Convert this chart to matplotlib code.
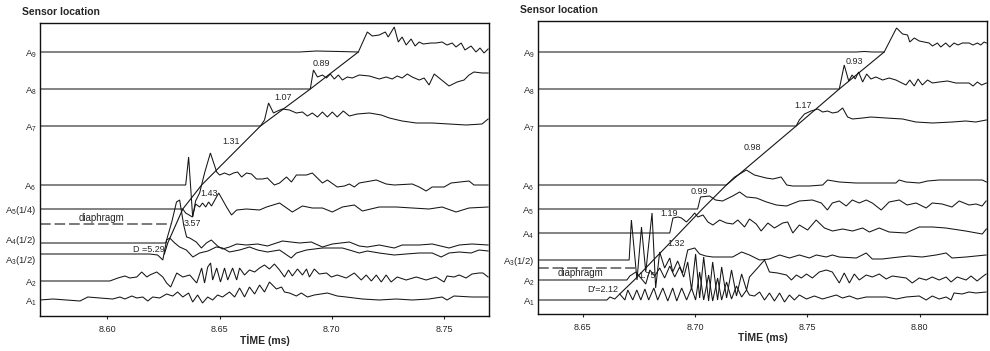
import matplotlib
matplotlib.use("Agg")
import matplotlib.pyplot as plt
from matplotlib.transforms import offset_copy

plt.rcParams['font.family'] = ['Liberation Sans', 'DejaVu Sans']
plt.rcParams['mathtext.fontset'] = 'custom'
plt.rcParams['mathtext.rm'] = 'Liberation Sans'
plt.rcParams['mathtext.it'] = 'Liberation Sans:italic'
plt.rcParams['mathtext.bf'] = 'Liberation Sans:bold'

# ---------------- LEFT PANEL DATA ----------------
L_xlim = (8.570, 8.770)
L_xticks = [8.60, 8.65, 8.70, 8.75]
L_labels = ['A$_1$', 'A$_2$', 'A$_3$(1/2)', 'A$_4$(1/2)', 'A$_5$(1/4)', 'A$_6$', 'A$_7$', 'A$_8$', 'A$_9$']
L_levels = [16, 35, 62, 73, 107, 131, 190, 227, 264]
L_label_y = [16, 35, 57, 77, 107, 131, 190, 227, 264]

L_A9_t = [8.5700, 8.6856, 8.6931, 8.7033, 8.7118, 8.7158, 8.7180, 8.7211, 8.7238, 8.7251, 8.7278, 8.7296, 8.7313, 8.7331, 8.7353, 8.7371, 8.7389, 8.7407, 8.7442, 8.7464, 8.7491, 8.7513, 8.7536, 8.7553, 8.7576, 8.7593, 8.7620, 8.7642, 8.7660, 8.7678, 8.7696]
L_A9_v = [0, 0, 1, 0.5, 0, 20, 16, 17, 20, 15, 25, 10, 15, 7, 13, 6, 10, 8, 9, 9, 10, 7, 9, 5, 9, 2, 6, 0, 4, -1, 3]
L_A8_t = [8.5700, 8.6904, 8.6918, 8.6936, 8.6958, 8.6976, 8.6993, 8.7011, 8.7029, 8.7047, 8.7069, 8.7091, 8.7122, 8.7167, 8.7211, 8.7242, 8.7269, 8.7291, 8.7313, 8.7336, 8.7358, 8.7389, 8.7411, 8.7433, 8.7456, 8.7478, 8.7522, 8.7558, 8.7589, 8.7611, 8.7633, 8.7669, 8.7696]
L_A8_v = [0, 0, 19, 12, 14, 11, 15, 10, 14, 9, 12, 11, 14, 13, 10, 12, 10, 13, 11, 15, 12, 9, 11, 4, 15, 11, 3, 7, 9, 14, 17, 16, 16]
L_A7_t = [8.5700, 8.6682, 8.6700, 8.6718, 8.6740, 8.6758, 8.6780, 8.6811, 8.6842, 8.6869, 8.6891, 8.6913, 8.6936, 8.6958, 8.6980, 8.7002, 8.7024, 8.7051, 8.7078, 8.7113, 8.7167, 8.7220, 8.7256, 8.7313, 8.7376, 8.7447, 8.7522, 8.7598, 8.7669, 8.7696]
L_A7_v = [0, 0, 6, 23, 13, 15, 17, 16, 13, 14, 10, 13, 9, 14, 9, 14, 9, 15, 10, 12, 13, 11, 8, 5, 3, 3, 2, 1, 2, 7]
L_A6_t = [8.5700, 8.6349, 8.6362, 8.6380, 8.6393, 8.6411, 8.6433, 8.6459, 8.6487, 8.6500, 8.6522, 8.6544, 8.6562, 8.6580, 8.6598, 8.6620, 8.6642, 8.6664, 8.6691, 8.6713, 8.6744, 8.6767, 8.6798, 8.6820, 8.6842, 8.6887, 8.6913, 8.6958, 8.6980, 8.7024, 8.7056, 8.7078, 8.7100, 8.7122, 8.7198, 8.7242, 8.7278, 8.7358, 8.7389, 8.7420, 8.7447, 8.7500, 8.7531, 8.7611, 8.7633, 8.7696]
L_A6_v = [0, 0, 28, -32, -16, -8, 12, 32, 13, 10, 12, 10, 12, 13, 8, 12, 11, 6, 6, 7, 0, 2, 8, 3, 10, 10, 12, 2, 5, -2, -1, 1, -2, 2, 5, 1, 0, 1, -2, -6, -2, -2, 2, 4, 0, 0]
L_A5_t = [8.5700, 8.6336, 8.6349, 8.6379, 8.6393, 8.6411, 8.6424, 8.6438, 8.6451, 8.6464, 8.6496, 8.6531, 8.6553, 8.6576, 8.6620, 8.6678, 8.6709, 8.6767, 8.6824, 8.6869, 8.6913, 8.6958, 8.7002, 8.7047, 8.7100, 8.7136, 8.7211, 8.7287, 8.7358, 8.7433, 8.7491, 8.7553, 8.7611, 8.7696]
L_A5_v = [0, 0, -4, -8, 5, 2, 6, 2, 7, 3, 16, 2, -6, -1, 0, -1, 2, 6, -3, 3, 1, 1, -3, 2, 4, -2, 2, 2, 1, 0, 2, -3, 1, 2]
L_A4_t = [8.5700, 8.6260, 8.6269, 8.6287, 8.6308, 8.6322, 8.6340, 8.6353, 8.6367, 8.6396, 8.6419, 8.6441, 8.6463, 8.6491, 8.6513, 8.6544, 8.6576, 8.6620, 8.6669, 8.6713, 8.6780, 8.6856, 8.6908, 8.6958, 8.7002, 8.7078, 8.7122, 8.7158, 8.7211, 8.7278, 8.7313, 8.7389, 8.7447, 8.7522, 8.7567, 8.7624, 8.7696]
L_A4_v = [0, 0, 7, 21, 41, 43, 18, 6, 5, 1, -5, 0, 3, -3, -6, -4, -1, -2, -1, -3, 2, 0, 1, -4, -1, 1, -3, -4, -2, -5, -2, -2, -1, -5, -2, -1, -2]
L_A3_t = [8.5700, 8.6189, 8.6224, 8.6247, 8.6264, 8.6278, 8.6300, 8.6322, 8.6352, 8.6381, 8.6411, 8.6448, 8.6485, 8.6513, 8.6544, 8.6589, 8.6633, 8.6669, 8.6713, 8.6767, 8.6819, 8.6842, 8.6887, 8.6958, 8.7047, 8.7078, 8.7122, 8.7158, 8.7211, 8.7278, 8.7331, 8.7389, 8.7447, 8.7487, 8.7522, 8.7567, 8.7620, 8.7656, 8.7696]
L_A3_v = [0, 0, -1, -6, 14, 16, 11, 7, 4, -3, 1, 3, 7, 6, 2, 4, 7, 4, 2, 4, -4, 1, 4, 6, 6, 4, 1, 3, 1, -1, 0, 1, 1, -3, 1, 2, 1, 4, 3]
L_A2_t = [8.5700, 8.6011, 8.6047, 8.6078, 8.6100, 8.6131, 8.6153, 8.6176, 8.6189, 8.6220, 8.6247, 8.6264, 8.6282, 8.6309, 8.6336, 8.6367, 8.6398, 8.6420, 8.6433, 8.6447, 8.6460, 8.6469, 8.6487, 8.6504, 8.6522, 8.6536, 8.6558, 8.6576, 8.6589, 8.6611, 8.6633, 8.6656, 8.6678, 8.6700, 8.6722, 8.6744, 8.6767, 8.6789, 8.6807, 8.6824, 8.6847, 8.6869, 8.6887, 8.6900, 8.6922, 8.6944, 8.6976, 8.6998, 8.7024, 8.7064, 8.7100, 8.7131, 8.7153, 8.7176, 8.7198, 8.7220, 8.7242, 8.7264, 8.7291, 8.7331, 8.7376, 8.7420, 8.7464, 8.7500, 8.7513, 8.7544, 8.7567, 8.7598, 8.7624, 8.7656, 8.7673, 8.7696]
L_A2_v = [0, 0, 3, 5, 3, 4, 9, 4, 6, 9, 4, -2, -6, 8, 4, 6, -2, 13, -2, 14, 18, 1, 13, -1, 13, 1, 13, 1, 13, 6, 11, 9, 13, 16, 12, 17, 11, 4, 11, 5, 12, 6, 12, 4, 12, 7, 8, 4, 6, 3, 8, 1, 6, 0, 6, -1, 6, -1, 4, 1, 4, 1, 4, -1, 5, 4, 6, 3, 7, 8, 8, 4]
L_A1_t = [8.5700, 8.5758, 8.5878, 8.5913, 8.5967, 8.6024, 8.6056, 8.6078, 8.6109, 8.6131, 8.6158, 8.6180, 8.6202, 8.6233, 8.6264, 8.6291, 8.6313, 8.6336, 8.6362, 8.6380, 8.6402, 8.6424, 8.6447, 8.6469, 8.6491, 8.6513, 8.6544, 8.6567, 8.6589, 8.6611, 8.6633, 8.6656, 8.6678, 8.6700, 8.6722, 8.6753, 8.6776, 8.6789, 8.6811, 8.6842, 8.6864, 8.6891, 8.6922, 8.6980, 8.7024, 8.7064, 8.7136, 8.7211, 8.7287, 8.7358, 8.7433, 8.7491, 8.7513, 8.7544, 8.7624, 8.7696]
L_A1_v = [0, 1, -1, 3, 2, 1, 3, 1, 4, 2, 3, -1, 3, 2, 6, 4, 8, 3, 7, -2, 5, -3, 3, 0, 5, 3, 8, 3, 12, 3, 13, 6, 15, 8, 18, 11, 13, 8, 7, 4, 7, 3, 5, 7, 4, 3, 1, 0, 1, 0, 1, 3, 0, 4, 3, 3]

L_front_t = [8.6254, 8.6269, 8.6336, 8.6420, 8.6682, 8.6904, 8.7118]
L_front_y = [62, 73, 107, 131, 190, 227, 264]
L_diaphragm_y = 92
L_diaphragm_t = [8.5700, 8.6282]
L_note_text = ['0.89', '1.07', '1.31', '1.43', '3.57', 'D =5.29', 'diaphragm']
L_note_t = [8.6953, 8.6784, 8.6553, 8.6451, 8.6380, 8.6183, 8.5976]
L_note_y = [253, 218, 175, 122, 93, 67, 98]

# ---------------- RIGHT PANEL DATA ----------------
R_xlim = (8.630, 8.830)
R_xticks = [8.65, 8.70, 8.75, 8.80]
R_labels = ['A$_1$', 'A$_2$', 'A$_3$(1/2)', 'A$_4$', 'A$_5$', 'A$_6$', 'A$_7$', 'A$_8$', 'A$_9$']
R_levels = [14, 34, 54, 81, 105, 129, 188, 225, 262]
R_label_y = [14, 34, 54, 81, 105, 129, 188, 225, 262]

R_A9_t = [8.6300, 8.7718, 8.7753, 8.7789, 8.7842, 8.7897, 8.7924, 8.7946, 8.7956, 8.7976, 8.7998, 8.8020, 8.8042, 8.8057, 8.8079, 8.8094, 8.8116, 8.8134, 8.8153, 8.8171, 8.8190, 8.8220, 8.8238, 8.8257, 8.8272, 8.8287, 8.8297]
R_A9_v = [0, 0, 0.5, 0, 0, 24, 18, 17, 10, 14, 11, 10, 9, 6, 9, 5, 9, 5, 9, 7, 9, 9, 7, 9, 7, 10, 9]
R_A8_t = [8.6300, 8.7642, 8.7664, 8.7684, 8.7699, 8.7713, 8.7728, 8.7746, 8.7764, 8.7783, 8.7805, 8.7835, 8.7864, 8.7894, 8.7939, 8.7956, 8.7976, 8.7993, 8.8012, 8.8035, 8.8057, 8.8087, 8.8124, 8.8161, 8.8193, 8.8220, 8.8238, 8.8257, 8.8276, 8.8297]
R_A8_v = [0, 0, 24, 8, 14, 10, 17, 7, 15, 10, 12, 9, 11, 9, 4, 9, 3, 10, 4, 9, 6, 7, 8, 6, 6, 6, 3, 7, 4, 6]
R_A7_t = [8.6300, 8.7450, 8.7464, 8.7487, 8.7516, 8.7546, 8.7568, 8.7590, 8.7612, 8.7635, 8.7657, 8.7679, 8.7701, 8.7746, 8.7783, 8.7850, 8.7924, 8.7983, 8.8057, 8.8146, 8.8205, 8.8250, 8.8297]
R_A7_v = [0, 0, 6, 12, 15, 17, 14, 15, 13, 14, 18, 9, 7, 8, 9, 8, 7, 4, 3, 4, 5, 4, 6]
R_A6_t = [8.6300, 8.7139, 8.7176, 8.7228, 8.7264, 8.7316, 8.7346, 8.7383, 8.7408, 8.7435, 8.7509, 8.7568, 8.7590, 8.7642, 8.7716, 8.7790, 8.7850, 8.7894, 8.7909, 8.7939, 8.7998, 8.8035, 8.8087, 8.8176, 8.8235, 8.8279, 8.8297]
R_A6_v = [0, 0, 8, 15, 10, 7, 6, 8, 0, -1, -1, 0, 5, 3, 2, 2, 2, 2, 5, 3, 2, 4, 5, 5, 5, 5, 3]
R_A5_t = [8.6300, 8.7011, 8.7024, 8.7064, 8.7091, 8.7122, 8.7167, 8.7198, 8.7229, 8.7273, 8.7318, 8.7362, 8.7407, 8.7464, 8.7522, 8.7562, 8.7589, 8.7611, 8.7642, 8.7673, 8.7700, 8.7731, 8.7762, 8.7789, 8.7829, 8.7864, 8.7909, 8.7944, 8.7984, 8.8029, 8.8056, 8.8100, 8.8144, 8.8176, 8.8220, 8.8251, 8.8278, 8.8296]
R_A5_v = [0, 0, 12, 13, 9, 8, 13, 17, 12, 11, 7, 4, 3, 8, 9, 6, -1, 6, 8, 3, 9, 6, 9, 6, -1, 7, 9, 4, 6, 1, 6, 5, 2, 8, 4, 5, 3, 8]
R_A4_t = [8.6300, 8.6887, 8.6901, 8.6924, 8.6939, 8.6961, 8.6983, 8.6998, 8.7012, 8.7035, 8.7057, 8.7079, 8.7109, 8.7139, 8.7168, 8.7190, 8.7220, 8.7242, 8.7272, 8.7294, 8.7324, 8.7353, 8.7390, 8.7412, 8.7435, 8.7464, 8.7501, 8.7539, 8.7576, 8.7612, 8.7657, 8.7701, 8.7746, 8.7776, 8.7820, 8.7864, 8.7939, 8.7998, 8.8057, 8.8116, 8.8205, 8.8279, 8.8297]
R_A4_v = [0, 0, 15, 16, 15, 11, 16, 20, 16, 18, 11, 8, 13, 10, 9, 13, 6, 14, 9, 2, 10, 5, 10, 11, 0, 8, 3, 13, 5, 2, 4, 2, 5, 1, 5, 1, 0, 6, 6, 5, 2, -1, 4]
R_A3_t = [8.6300, 8.6706, 8.6716, 8.6741, 8.6761, 8.6780, 8.6808, 8.6824, 8.6842, 8.6864, 8.6887, 8.6900, 8.6922, 8.6944, 8.6967, 8.6998, 8.7020, 8.7047, 8.7078, 8.7122, 8.7167, 8.7207, 8.7242, 8.7287, 8.7331, 8.7376, 8.7420, 8.7464, 8.7509, 8.7540, 8.7584, 8.7611, 8.7642, 8.7718, 8.7762, 8.7789, 8.7833, 8.7909, 8.7953, 8.8011, 8.8073, 8.8118, 8.8144, 8.8207, 8.8251, 8.8296]
R_A3_v = [0, 0, 40, -20, 33, -12, 47, -28, 8, -8, 2, -12, -1, -13, 10, 12, 6, 4, 3, 3, 3, 8, 5, 0, 1, 5, 2, 5, 2, 5, 3, 5, 3, 2, 7, 1, 1, 3, 4, 3, 5, 7, 2, 3, 4, 5]
R_A2_t = [8.6300, 8.6696, 8.6709, 8.6736, 8.6758, 8.6780, 8.6798, 8.6820, 8.6842, 8.6864, 8.6887, 8.6909, 8.6931, 8.6949, 8.6967, 8.6984, 8.7002, 8.7020, 8.7038, 8.7060, 8.7078, 8.7100, 8.7118, 8.7140, 8.7162, 8.7184, 8.7207, 8.7229, 8.7242, 8.7278, 8.7309, 8.7331, 8.7367, 8.7407, 8.7429, 8.7451, 8.7473, 8.7496, 8.7522, 8.7553, 8.7584, 8.7611, 8.7642, 8.7664, 8.7687, 8.7709, 8.7731, 8.7762, 8.7789, 8.7820, 8.7851, 8.7878, 8.7909, 8.7940, 8.7967, 8.7998, 8.8029, 8.8056, 8.8087, 8.8118, 8.8140, 8.8167, 8.8207, 8.8229, 8.8256, 8.8278, 8.8296]
R_A2_v = [0, 0, 4, 8, 2, -4, 10, 4, 12, 2, 14, 3, 13, 3, 18, -10, 26, -18, 23, -21, 18, -20, 13, -18, 10, -16, 6, -10, 3, 12, 20, 8, 7, 5, 0, 5, 2, 6, 2, 8, 10, 8, -3, 7, -3, 6, 0, 5, 3, 6, 1, 4, 3, 2, -3, 2, 0, 3, 0, 3, -2, 3, 0, 4, -1, 3, 6]
R_A1_t = [8.6300, 8.6607, 8.6620, 8.6642, 8.6664, 8.6687, 8.6700, 8.6722, 8.6740, 8.6758, 8.6776, 8.6793, 8.6816, 8.6833, 8.6856, 8.6878, 8.6900, 8.6918, 8.6940, 8.6962, 8.6984, 8.7002, 8.7020, 8.7038, 8.7060, 8.7078, 8.7100, 8.7118, 8.7140, 8.7162, 8.7184, 8.7207, 8.7229, 8.7242, 8.7264, 8.7287, 8.7309, 8.7331, 8.7353, 8.7376, 8.7398, 8.7420, 8.7442, 8.7464, 8.7496, 8.7531, 8.7567, 8.7629, 8.7656, 8.7687, 8.7722, 8.7762, 8.7851, 8.7896, 8.7940, 8.7998, 8.8029, 8.8056, 8.8087, 8.8118, 8.8140, 8.8153, 8.8189, 8.8220, 8.8251, 8.8296]
R_A1_v = [0, 0, 3, 1, 6, 0, 10, 0, 10, 0, 11, 0, 12, 0, 12, -1, 12, -1, 12, 0, 12, 0, 28, 0, 25, -1, 22, 0, 18, 1, 14, 3, 10, 5, 4, 8, 0, 7, -1, 7, -2, 5, 0, 5, 1, 4, 1, 5, 2, 4, 1, 3, 3, 1, 3, 4, 0, 4, 1, 3, 0, 7, 6, 8, 7, 8]

R_front_t = [8.6664, 8.6729, 8.6814, 8.6930, 8.7032, 8.7139, 8.7450, 8.7642, 8.7842]
R_front_y = [20, 34, 54, 81, 105, 129, 188, 225, 262]
R_diaphragm_y = 46
R_diaphragm_t = [8.6300, 8.6733]
R_note_text = ['0.93', '1.17', '0.98', '0.99', '1.19', '1.32', '1.75', "D'=2.12", 'diaphragm']
R_note_t = [8.7709, 8.7482, 8.7256, 8.7020, 8.6882, 8.6913, 8.6784, 8.6588, 8.6491]
R_note_y = [252, 208, 167, 123, 100, 70, 38, 25, 41]

L_traces = [(L_A1_t, L_A1_v), (L_A2_t, L_A2_v), (L_A3_t, L_A3_v), (L_A4_t, L_A4_v), (L_A5_t, L_A5_v),
            (L_A6_t, L_A6_v), (L_A7_t, L_A7_v), (L_A8_t, L_A8_v), (L_A9_t, L_A9_v)]
R_traces = [(R_A1_t, R_A1_v), (R_A2_t, R_A2_v), (R_A3_t, R_A3_v), (R_A4_t, R_A4_v), (R_A5_t, R_A5_v),
            (R_A6_t, R_A6_v), (R_A7_t, R_A7_v), (R_A8_t, R_A8_v), (R_A9_t, R_A9_v)]

LINE = '#151515'
TEXT = '#262626'

fig = plt.figure(figsize=(9.9, 3.51), dpi=100)
W, H = 990.0, 351.0
ax_l = fig.add_axes([40 / W, 35 / H, 449 / W, 293 / H])
ax_r = fig.add_axes([538 / W, 37 / H, 449 / W, 293 / H])


def draw(ax, traces, levels, labels, label_y, xlim, xticks, front_t, front_y, dia_t, dia_y,
         note_text, note_t, note_y, xlabel_y):
    for (t, v), lev in zip(traces, levels):
        ax.plot(t, [lev + a for a in v], color=LINE, lw=0.75, solid_joinstyle='miter')
    ax.plot(front_t, front_y, color=LINE, lw=0.8)
    ax.plot(dia_t, [dia_y, dia_y], color='#555555', lw=1.1, ls=(0, (7, 2.5)))
    for s, tt, yy in zip(note_text, note_t, note_y):
        ax.text(tt, yy, s, fontsize=7 if s == 'diaphragm' else 6.5, color=TEXT,
                ha='center', va='center')
    ax.set_xlim(*xlim)
    ax.set_ylim(0, 293)
    ax.set_xticks(xticks)
    ax.set_xticklabels(['%.2f' % x for x in xticks])
    ax.set_yticks([])
    ytr = offset_copy(ax.get_yaxis_transform(), fig=ax.figure, y=-1.5, units='dots')
    for s, yy in zip(labels, label_y):
        ax.text(-0.008, yy, s, transform=ytr, ha='right', va='center',
                fontsize=6.8, color=TEXT)
    ax.tick_params(axis='x', direction='out', length=2.2, width=0.8, labelsize=6.5,
                   pad=4, colors=TEXT)
    for sp in ax.spines.values():
        sp.set_linewidth(1.0)
        sp.set_color('#111111')
    ax.text(0.5, xlabel_y, 'TİME (ms)', transform=ax.transAxes, ha='center', va='center',
            fontsize=7.5, fontweight='bold', color=TEXT)


draw(ax_l, L_traces, L_levels, L_labels, L_label_y, L_xlim, L_xticks, L_front_t, L_front_y,
     L_diaphragm_t, L_diaphragm_y, L_note_text, L_note_t, L_note_y, -0.082)
draw(ax_r, R_traces, R_levels, R_labels, R_label_y, R_xlim, R_xticks, R_front_t, R_front_y,
     R_diaphragm_t, R_diaphragm_y, R_note_text, R_note_t, R_note_y, -0.079)

fig.text(22 / W, 1 - 12 / H, 'Sensor location', fontsize=7.5, fontweight='bold',
         ha='left', va='center', color=TEXT)
fig.text(520 / W, 1 - 10 / H, 'Sensor location', fontsize=7.5, fontweight='bold',
         ha='left', va='center', color=TEXT)

fig.savefig('out.png', dpi=100)
